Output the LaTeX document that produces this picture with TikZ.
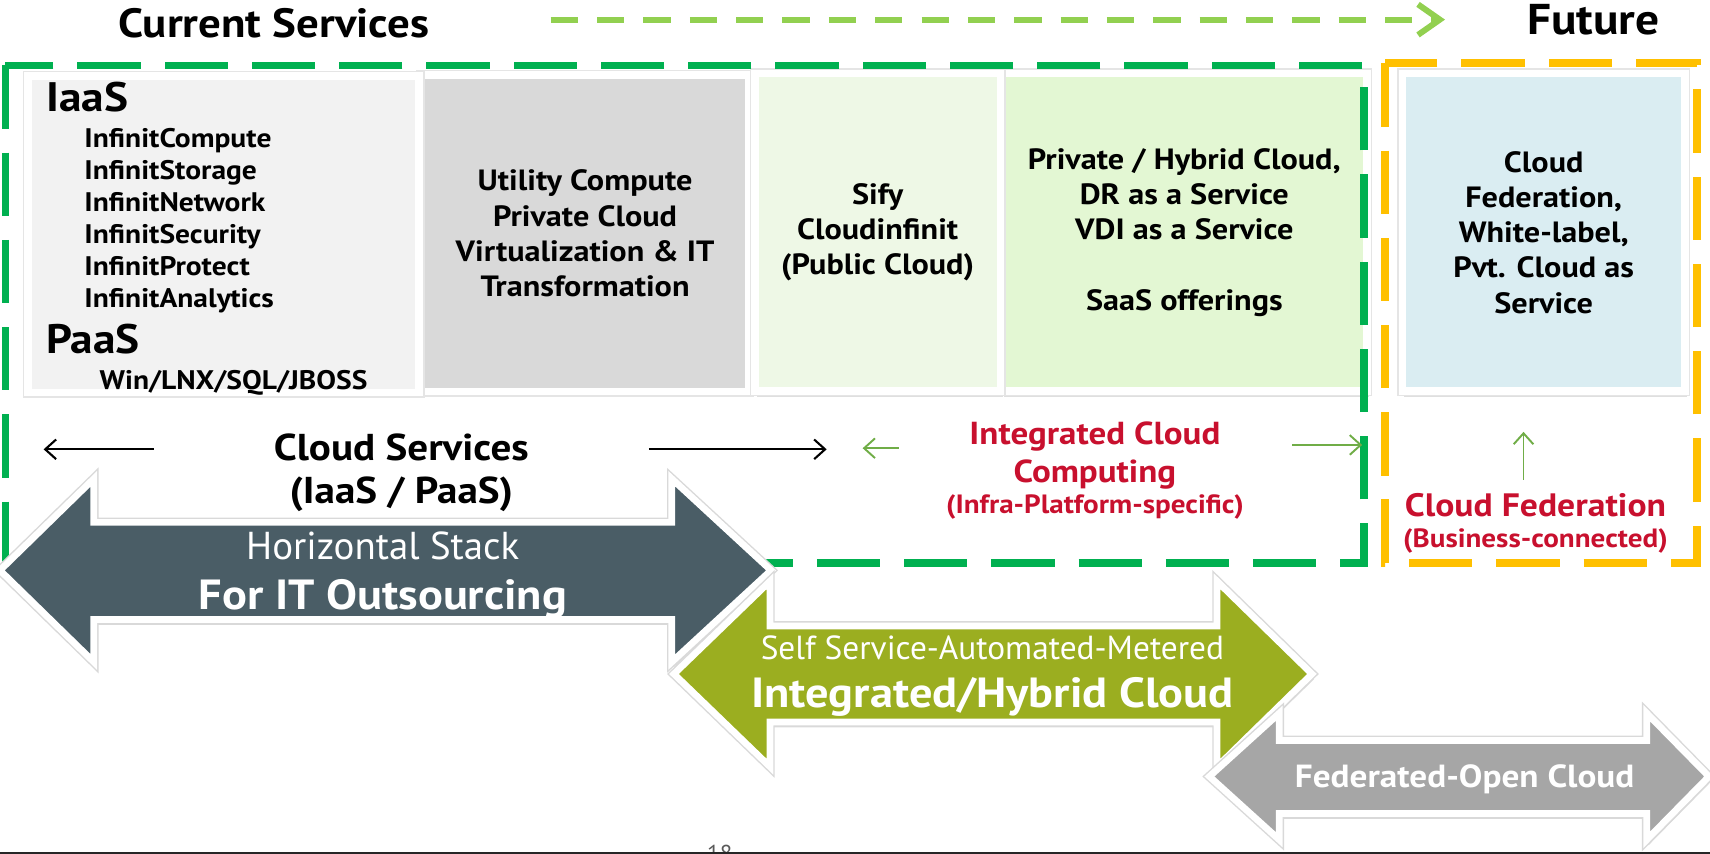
\documentclass[tikz,border=0pt]{standalone}
\usepackage{fontspec}
\setmainfont{PT Sans}[BoldFeatures={FakeStretch=1.1}]
\usepackage{tikz}
\usetikzlibrary{arrows.meta,shadows}
\definecolor{dashgreen}{HTML}{00B050}
\definecolor{trendgreen}{HTML}{92D050}
\definecolor{futureorange}{HTML}{FFC000}
\definecolor{fedred}{HTML}{C8102E}
\definecolor{smallgreen}{HTML}{70AD47}
\definecolor{iaasgray}{HTML}{F2F2F2}
\definecolor{utilgray}{HTML}{D9D9D9}
\definecolor{publicgreen}{HTML}{EEF8E6}
\definecolor{hybridgreen}{HTML}{E3F7D3}
\definecolor{fedblue}{HTML}{DAEDF2}
\definecolor{stackslate}{HTML}{4A5D66}
\definecolor{hybridolive}{HTML}{9BAE20}
\definecolor{opengray}{HTML}{A6A6A6}
\tikzset{svcbox/.style={draw=white,line width=4pt,inner sep=0pt,align=center,font=\fontsize{15.3}{18.4}\selectfont\bfseries,drop shadow={opacity=0.25,shadow xshift=1pt,shadow yshift=-3pt},preaction={draw=black!10,line width=5.4pt}}}
\tikzset{itemtext/.style={anchor=base west,inner sep=0pt,font=\fontsize{14}{16}\selectfont\bfseries}}
\tikzset{headtext/.style={anchor=base,inner sep=0pt,font=\fontsize{21.3}{24}\selectfont\bfseries}}
\tikzset{redtext/.style={anchor=base,inner sep=0pt,text=fedred,font=\fontsize{16.6}{19}\selectfont\bfseries}}
\tikzset{redsmall/.style={anchor=base,inner sep=0pt,text=fedred,font=\fontsize{13.8}{15}\selectfont\bfseries}}
\tikzset{dashframe/.style={line width=4pt,dash pattern=on 11.6mm off 4.4mm}}
\tikzset{bigarrow/.style={draw=white,line width=3.5pt,line join=miter,drop shadow={opacity=0.3,shadow xshift=1pt,shadow yshift=-2.8pt},preaction={draw=black!15,line width=5pt}}}
\tikzset{thinarrow/.style={line width=1.1pt,-{Straight Barb[length=2mm,width=3.6mm]}}}
\tikzset{greenarrow/.style={smallgreen,line width=1pt,-{Straight Barb[length=2mm,width=3.6mm]}}}
\tikzset{trendarrow/.style={trendgreen,line width=3.1pt,dash pattern=on 5mm off 3.5mm,-{Straight Barb[length=4mm,width=5.6mm]}}}
\tikzset{arrowtext/.style={anchor=base,inner sep=0pt,text=white}}

\begin{document}
\begin{tikzpicture}[x=0.2mm,y=-0.2mm]
  \useasboundingbox (0,0) rectangle (1568,783);

  % boxes of the current and future services
  \node[svcbox,fill=utilgray,minimum width=60mm,minimum height=58mm] (utility) at (536.5,214)
    {Utility Compute\\Private Cloud\\Virtualization \& IT\\Transformation};
  \node[svcbox,fill=iaasgray,minimum width=71.8mm,minimum height=58.1mm] (iaas) at (205,214.75) {};
  \node[svcbox,fill=hybridgreen,minimum width=67mm,minimum height=58.2mm] (hybrid) at (1086,213)
    {Private / Hybrid Cloud,\\DR as a Service\\VDI as a Service\\[18.4pt]SaaS offerings};
  \node[svcbox,fill=publicgreen,minimum width=45.1mm,minimum height=58.2mm] (public) at (804.75,213)
    {Sify\\Cloudinfinit\\(Public Cloud)};
  \node[svcbox,fill=fedblue,minimum width=51.8mm,minimum height=58.2mm] (fedbox) at (1415.5,213)
    {Cloud\\Federation,\\White-label,\\Pvt. Cloud as\\Service};

  \node[headtext,anchor=base west,font=\fontsize{21.5}{24}\selectfont\bfseries] (iaaslabel) at (42,102) {IaaS};
  \foreach \name [count=\i from 0] in {InfinitCompute,InfinitStorage,InfinitNetwork,InfinitSecurity,InfinitProtect,InfinitAnalytics}
    \node[itemtext] (item\i) at (77,{135.5+29.3*\i}) {\name};
  \node[headtext,anchor=base west,font=\fontsize{21.5}{24}\selectfont\bfseries] (paaslabel) at (42,324) {PaaS};
  \node[itemtext] (platforms) at (91,357) {Win/LNX/SQL/JBOSS};

  % dashed frames
  \draw[dashframe,dashgreen] (5,60) rectangle (1251,516);
  \draw[dashframe,futureorange] (1270,58) rectangle (1556,516);

  % headings
  \node[headtext] (current) at (251,34) {Current Services};
  \node[headtext,font=\fontsize{22.5}{24}\selectfont\bfseries] (future) at (1461,32) {Future};
  \coordinate (trendstart) at (505,18);
  \coordinate (trendend) at (1325,18);
  \draw[trendarrow] (trendstart) -- (trendend);

  % cloud services
  \node[headtext,font=\fontsize{19.5}{22}\selectfont\bfseries] (cloudsvc) at (368,422) {Cloud Services};
  \node[headtext,font=\fontsize{19.5}{22}\selectfont\bfseries] (iaaspaas) at (368,462) {(IaaS / PaaS)};
  \coordinate (csleftend) at (141,412);
  \coordinate (cslefttip) at (40,412);
  \coordinate (csrightend) at (595,412);
  \coordinate (csrighttip) at (758,412);
  \draw[thinarrow] (csleftend) -- (cslefttip);
  \draw[thinarrow] (csrightend) -- (csrighttip);

  % integrated cloud computing
  \node[redtext] (integrated) at (1004,408) {Integrated Cloud};
  \node[redtext] (computing) at (1004,442) {Computing};
  \node[redsmall] (infraspec) at (1004,471) {(Infra-Platform-specific)};
  \coordinate (icleftend) at (824,411);
  \coordinate (iclefttip) at (791,411);
  \coordinate (icrightend) at (1185,408);
  \coordinate (icrighttip) at (1249,408);
  \draw[greenarrow] (icleftend) -- (iclefttip);
  \draw[greenarrow] (icrightend) -- (icrighttip);

  % cloud federation
  \node[redtext,font=\fontsize{16.9}{19}\selectfont\bfseries] (cloudfed) at (1408,474) {Cloud Federation};
  \node[redsmall] (business) at (1408,502) {(Business-connected)};
  \coordinate (fedupend) at (1397,440);
  \coordinate (feduptip) at (1397,396);
  \draw[greenarrow] (fedupend) -- (feduptip);

  % the three stacks
  \draw[bigarrow,fill=stackslate] (0,523) -- (86,439) -- (86,479) -- (616,479) -- (616,439) -- (707,523)
    -- (616,607) -- (616,568) -- (86,568) -- (86,607) -- cycle;
  \draw[bigarrow,fill=hybridolive] (618,618) -- (706,533) -- (706,574) -- (1116,574) -- (1116,533) -- (1203,618)
    -- (1116,703) -- (1116,662) -- (706,662) -- (706,703) -- cycle;
  \draw[bigarrow,fill=opengray] (1109,712) -- (1173,654) -- (1173,679) -- (1510,679) -- (1510,654) -- (1567,712)
    -- (1510,770) -- (1510,746) -- (1173,746) -- (1173,770) -- cycle;

  \node[arrowtext,font=\fontsize{20.3}{22}\selectfont] (stacktop) at (351,513) {Horizontal Stack};
  \node[arrowtext,font=\fontsize{22}{24}\selectfont\bfseries] (stackbot) at (351,559) {For IT Outsourcing};
  \node[arrowtext,font=\fontsize{17.4}{19}\selectfont] (hybridtop) at (910,605) {Self Service-Automated-Metered};
  \node[arrowtext,font=\fontsize{22}{26}\selectfont\bfseries] (hybridbot) at (910,649) {Integrated/Hybrid Cloud};
  \node[arrowtext,font=\fontsize{16.7}{19}\selectfont\bfseries] (openfed) at (1343,722) {Federated-Open Cloud};

  % page foot
  \node[anchor=north,inner sep=0pt,text=black!65,font=\fontsize{12}{14}\selectfont] (pagenum) at (660,775) {18};
  \draw[line width=0.4mm,black!85] (0,782) -- (1568,782);
\end{tikzpicture}
\end{document}
